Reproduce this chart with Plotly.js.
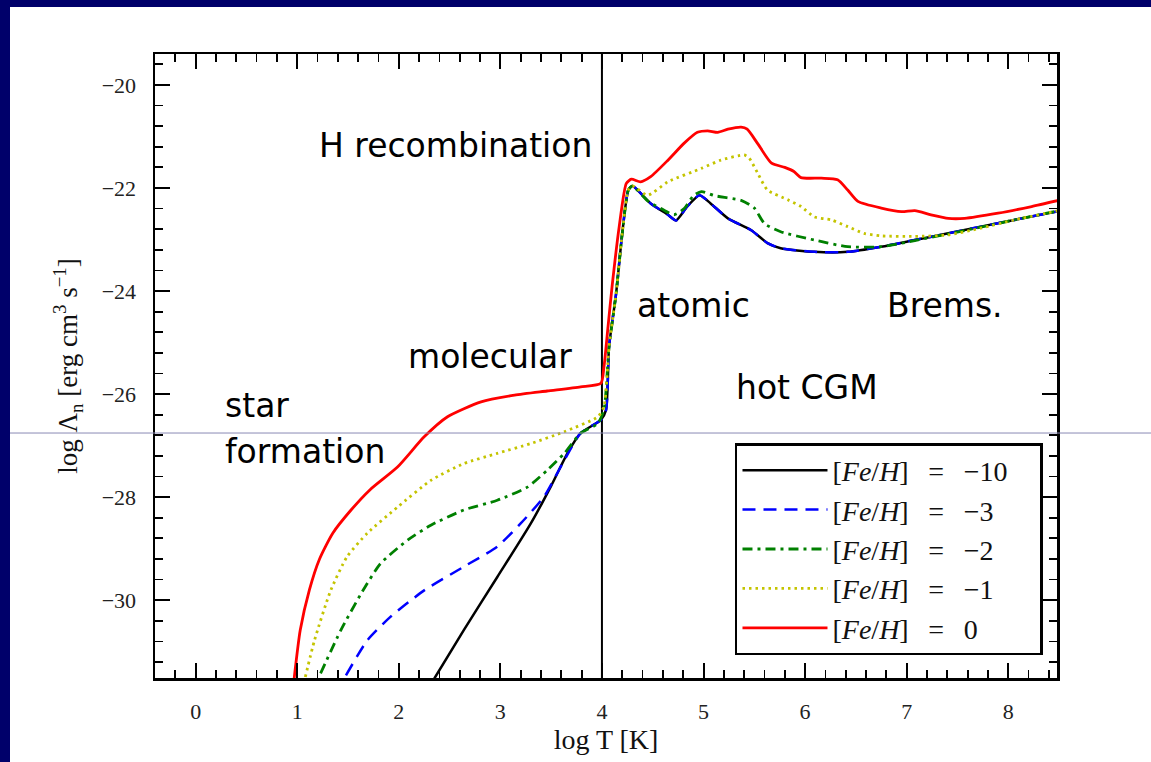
<!DOCTYPE html>
<html><head><meta charset="utf-8">
<script src="https://cdn.plot.ly/plotly-3.0.1.min.js"></script>
<style>
html,body{margin:0;padding:0;background:#00006a;width:1151px;height:762px;overflow:hidden}
#chart{position:absolute;left:10px;top:7px;width:1141px;height:755px;background:#fff}
</style></head><body><div id="chart"></div><script>
// [Fe/H] = -10
const logT_m10 = [2.35, 2.64, 2.97, 3.30, 3.50, 3.66, 3.79, 3.99, 4.04, 4.07, 4.14, 4.20, 4.26, 4.30, 4.48, 4.65, 4.73, 4.84, 4.96, 5.07, 5.24, 5.47, 5.63, 5.76, 6.09, 6.42, 6.75, 7.08, 7.41, 7.73, 8.06, 8.50];
const lam_m10  = [-31.52, -30.58, -29.55, -28.51, -27.78, -27.15, -26.76, -26.50, -26.31, -25.08, -24.04, -22.88, -22.04, -21.96, -22.30, -22.52, -22.63, -22.36, -22.14, -22.30, -22.59, -22.82, -23.07, -23.17, -23.24, -23.24, -23.14, -23.01, -22.88, -22.75, -22.62, -22.45];
// [Fe/H] = -3
const logT_m3 = [1.48, 1.69, 1.92, 2.25, 2.64, 2.97, 3.20, 3.43, 3.63, 3.79, 3.99, 4.04, 4.07, 4.14, 4.20, 4.26, 4.30, 4.48, 4.65, 4.73, 4.84, 4.96, 5.07, 5.24, 5.47, 5.63, 5.76, 6.09, 6.42, 6.75, 7.08, 7.41, 7.73, 8.06, 8.50];
const lam_m3  = [-31.46, -30.78, -30.32, -29.81, -29.35, -28.96, -28.51, -27.99, -27.28, -26.76, -26.50, -26.31, -25.08, -24.04, -22.88, -22.04, -21.96, -22.30, -22.52, -22.63, -22.36, -22.14, -22.30, -22.59, -22.82, -23.07, -23.17, -23.24, -23.24, -23.14, -23.01, -22.88, -22.75, -22.62, -22.45];
// [Fe/H] = -2
const logT_m2 = [1.23, 1.43, 1.63, 1.82, 2.09, 2.32, 2.64, 2.97, 3.27, 3.46, 3.63, 3.79, 3.96, 4.02, 4.07, 4.14, 4.20, 4.26, 4.30, 4.45, 4.60, 4.71, 4.81, 4.90, 4.98, 5.11, 5.37, 5.50, 5.60, 5.76, 6.09, 6.42, 6.75, 7.08, 7.41, 7.73, 8.06, 8.50];
const lam_m2  = [-31.42, -30.58, -29.87, -29.29, -28.83, -28.54, -28.25, -28.06, -27.80, -27.48, -27.15, -26.76, -26.57, -26.30, -25.08, -24.04, -22.88, -22.04, -21.96, -22.25, -22.42, -22.52, -22.40, -22.15, -22.07, -22.15, -22.24, -22.39, -22.69, -22.85, -23.01, -23.14, -23.14, -23.02, -22.89, -22.76, -22.62, -22.44];
// [Fe/H] = -1
const logT_m1 = [1.08, 1.17, 1.33, 1.49, 1.69, 1.99, 2.32, 2.64, 2.97, 3.30, 3.63, 3.96, 4.02, 4.07, 4.14, 4.20, 4.26, 4.30, 4.45, 4.65, 4.98, 5.17, 5.40, 5.45, 5.53, 5.63, 5.83, 5.96, 6.09, 6.26, 6.42, 6.58, 6.75, 7.08, 7.41, 7.73, 8.06, 8.50];
const lam_m1  = [-31.49, -30.78, -29.81, -29.16, -28.70, -28.19, -27.67, -27.35, -27.15, -26.96, -26.73, -26.44, -26.24, -25.08, -24.04, -22.88, -22.04, -21.96, -22.14, -21.88, -21.62, -21.46, -21.36, -21.42, -21.70, -22.04, -22.23, -22.36, -22.56, -22.62, -22.75, -22.88, -22.93, -22.94, -22.91, -22.78, -22.62, -22.44];
// [Fe/H] = 0
const logT_0 = [0.97, 1.03, 1.12, 1.22, 1.35, 1.53, 1.72, 1.99, 2.25, 2.48, 2.81, 3.14, 3.46, 3.79, 3.99, 4.02, 4.06, 4.10, 4.17, 4.24, 4.29, 4.38, 4.48, 4.65, 4.81, 4.94, 5.04, 5.14, 5.24, 5.37, 5.43, 5.53, 5.67, 5.80, 5.89, 5.96, 6.16, 6.32, 6.42, 6.52, 6.75, 6.95, 7.08, 7.24, 7.41, 7.57, 7.90, 8.23, 8.50];
const lam_0  = [-31.52, -30.58, -29.80, -29.20, -28.70, -28.25, -27.85, -27.41, -26.83, -26.44, -26.15, -26.02, -25.94, -25.86, -25.79, -25.47, -24.69, -23.91, -22.75, -21.91, -21.83, -21.88, -21.78, -21.46, -21.13, -20.92, -20.89, -20.92, -20.86, -20.82, -20.86, -21.13, -21.52, -21.60, -21.68, -21.80, -21.81, -21.84, -22.04, -22.26, -22.39, -22.46, -22.44, -22.52, -22.59, -22.59, -22.49, -22.36, -22.24];

const seriesNames = ['[<i>Fe</i>/<i>H</i>]\u2002\u2009=\u2002\u2009−10\u2003', '[<i>Fe</i>/<i>H</i>]\u2002\u2009=\u2002\u2009−3\u2003', '[<i>Fe</i>/<i>H</i>]\u2002\u2009=\u2002\u2009−2\u2003', '[<i>Fe</i>/<i>H</i>]\u2002\u2009=\u2002\u2009−1\u2003', '[<i>Fe</i>/<i>H</i>]\u2002\u2009=\u2002\u20090\u2003'];
const xTickVals = [0, 1, 2, 3, 4, 5, 6, 7, 8];
const yTickVals = [-30, -28, -26, -24, -22, -20];
const regionLabels = ['H recombination', 'atomic', 'Brems.', 'molecular', 'hot CGM', 'star', 'formation'];

const xs = [logT_m10, logT_m3, logT_m2, logT_m1, logT_0];
const ys = [lam_m10, lam_m3, lam_m2, lam_m1, lam_0];
const colors = ['#000000', '#0000ff', '#008000', '#c4c400', '#ff0000'];
const dashes = ['solid', '13px,8px', '10px,5px,3px,5px', '2.5px,4px', 'solid'];
const widths = [2.5, 2.5, 2.8, 2.8, 2.8];

const traces = xs.map((x, i) => ({
  x: x, y: ys[i], type: 'scatter', mode: 'lines', name: seriesNames[i],
  legendgroup: 'g' + i,
  line: {color: colors[i], dash: dashes[i], width: widths[i], shape: 'spline', smoothing: 0.6}
}));

const serif = 'Liberation Serif, DejaVu Serif, serif';
const labelFont = {family: 'DejaVu Sans, sans-serif', size: 33, color: '#000'};
// annotation anchor positions (left x, middle y) in data units
const annX = [1.19, 4.33, 6.79, 2.07, 5.30, 0.27, 0.27];
const annY = [-21.18, -24.29, -24.29, -25.28, -25.88, -26.23, -27.11];

const axisCommon = {
  showgrid: false, zeroline: false, showline: true, linecolor: '#000', linewidth: 2.5,
  mirror: 'ticks', ticks: 'inside', ticklen: 15, tickwidth: 2, tickcolor: '#000',
  tickfont: {family: serif, size: 22, color: '#222'}, ticklabelstandoff: 12
};

const layout = {
  width: 1141, height: 755,
  margin: {l: 145, r: 94, t: 47, b: 84},
  paper_bgcolor: '#fff', plot_bgcolor: '#fff',
  showlegend: true,
  xaxis: Object.assign({}, axisCommon, {
    range: [-0.40, 8.48], tickmode: 'array', tickvals: xTickVals,
    minor: {dtick: 0.2, tick0: 0, ticks: 'inside', ticklen: 8, tickwidth: 1.8, tickcolor: '#000'},
    title: {text: 'log T [K]', font: {family: serif, size: 28, color: '#111'}, standoff: 4}
  }),
  yaxis: Object.assign({}, axisCommon, {
    range: [-31.51, -19.4], tickmode: 'array', tickvals: yTickVals,
    minor: {dtick: 0.4, tick0: -20, ticks: 'inside', ticklen: 8, tickwidth: 1.8, tickcolor: '#000'},
    title: {text: 'log Λ<sub>n</sub> [erg cm<sup>3</sup> s<sup>−1</sup>]', font: {family: serif, size: 27, color: '#111'}, standoff: 16}
  }),
  legend: {
    x: 0.643, y: 0.3766, xanchor: 'left', yanchor: 'top',
    bgcolor: '#fff', bordercolor: '#000', borderwidth: 2.5,
    font: {family: serif, size: 28, color: '#111'},
    traceorder: 'grouped', tracegroupgap: 0, itemwidth: 85
  },
  shapes: [
    {type: 'line', xref: 'x', yref: 'paper', x0: 4, x1: 4, y0: 0, y1: 1, line: {color: '#000', width: 2}, layer: 'below'},
    {type: 'line', xref: 'paper', yref: 'paper', x0: -0.2, x1: 1.2, y0: 0.3926, y1: 0.3926, line: {color: '#8a8ab4', width: 1}, layer: 'above'}
  ],
  annotations: regionLabels.map((t, i) => ({
    text: t, x: annX[i], y: annY[i], xref: 'x', yref: 'y', xanchor: 'left', yanchor: 'middle',
    showarrow: false, font: labelFont
  }))
};

Plotly.newPlot('chart', traces, layout, {displayModeBar: false, staticPlot: true});
</script></body></html>
